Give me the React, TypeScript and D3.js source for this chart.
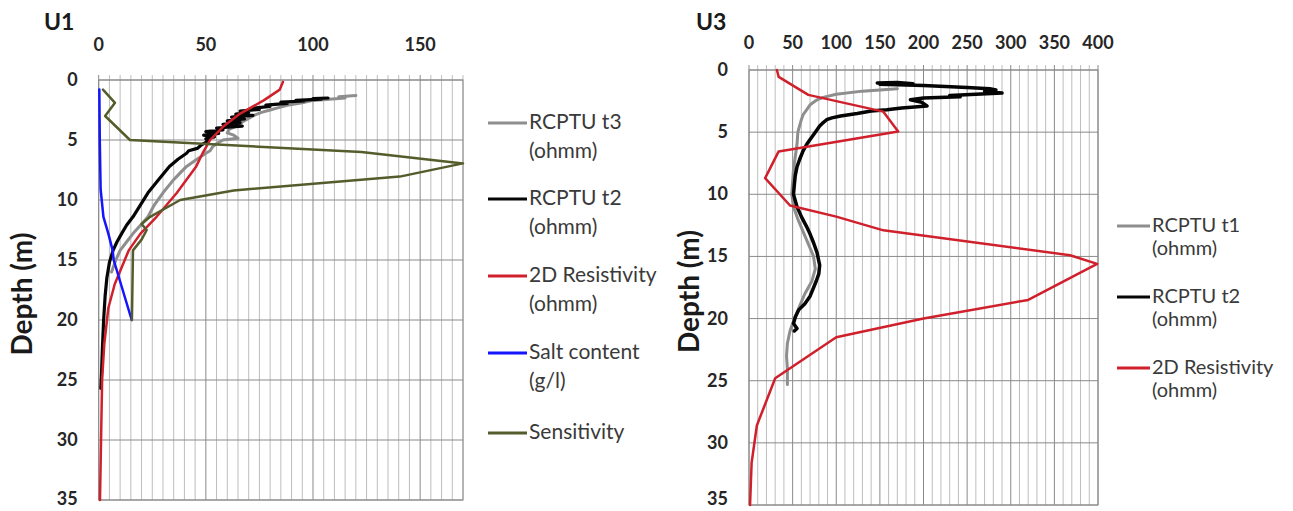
import React from 'react';
import * as d3 from 'd3';

// Each profile point is [value, depth in metres]
type Pt = [number, number];

const depthTicks = [0, 5, 10, 15, 20, 25, 30, 35];
const u1XTicks = [0, 50, 100, 150];
const u3XTicks = [0, 50, 100, 150, 200, 250, 300, 350, 400];

// ---- U1 profiles ----
const u1RcptuT3: Pt[] = [
  [120, 1.3], [112, 1.4], [115, 1.5], [100, 1.7], [95, 1.9], [88, 2.1], [84, 2.3], [80, 2.5],
  [76, 2.7], [73, 2.9], [70, 3.2], [67, 3.5], [65, 3.8], [61, 4.1], [60, 4.4], [63, 4.6],
  [65, 4.85], [58, 5.0], [55, 5.3], [53, 5.6], [52, 5.9], [50, 6.1], [45, 6.7], [41, 7.2],
  [35, 8.3], [30, 9.4], [26, 10.4], [23, 11.4], [19.5, 12.1], [16, 12.8], [13, 13.5],
  [10, 14.2], [8, 15], [6, 16],
];

const u1RcptuT2: Pt[] = [
  [107, 1.5], [100, 1.55], [104, 1.6], [92, 1.7], [96, 1.75], [85, 1.85], [88, 1.95], [78, 2.1],
  [80, 2.2], [72, 2.35], [75, 2.45], [66, 2.6], [70, 2.7], [64, 2.85], [72, 2.95], [62, 3.1],
  [68, 3.25], [60, 3.4], [66, 3.55], [58, 3.7], [67, 3.85], [55, 4.0], [58, 4.15], [50, 4.3],
  [56, 4.45], [49, 4.6], [54, 4.75], [50, 4.9], [51, 5.1], [48, 5.4], [46, 5.7], [42, 5.9],
  [41, 6.1], [37, 6.6], [33, 7.2], [28, 8.3], [23, 9.4], [19.5, 10.4], [16, 11.4], [13, 12.1],
  [10.7, 12.8], [8.5, 13.5], [6.7, 14.2], [5, 15.2], [3.8, 16.5], [3, 18], [2.3, 20],
  [1.7, 22.5], [1.3, 24.5], [1, 25.7],
];

const u1Resistivity: Pt[] = [
  [86, 0.15], [84.5, 0.8], [77, 1.7], [66, 2.8], [58, 3.9], [52, 5], [48.5, 6.1], [45.5, 7.2],
  [36.5, 9.4], [27, 11.4], [19.5, 12.8], [14, 14.2], [11, 15.5], [7.5, 17], [4.5, 19],
  [2.6, 22], [1.6, 25], [1.1, 30], [0.6, 35],
];

const u1SaltContent: Pt[] = [
  [0.3, 0.8], [0.5, 5], [0.9, 9.1], [2.2, 11.4], [4.5, 12.8], [6.5, 14.2], [7, 15], [15.4, 20],
];

const u1Sensitivity: Pt[] = [
  [2, 0.8], [7.6, 1.9], [3, 3.0], [14.6, 5.0], [122.6, 6.0], [170, 6.95], [140.5, 8.05],
  [63, 9.2], [38, 10], [24, 11.4], [20, 12], [22.4, 12.5], [20, 13.3], [16, 14.2], [15.5, 20],
];

// ---- U3 profiles ----
const u3RcptuT1: Pt[] = [
  [170, 1.5], [130, 1.7], [100, 1.95], [85, 2.2], [78, 2.4], [70, 2.8], [66, 3.2], [62, 3.6],
  [60, 4.0], [58, 4.5], [56, 5.0], [55, 6], [53, 7], [51, 8], [50, 9], [49, 10], [51, 11],
  [56, 12], [62, 13], [68, 14], [74, 15], [76, 16], [72, 17], [64, 18], [58, 19], [52, 20],
  [47, 21], [44, 22], [43, 23], [44, 24], [44, 25.3],
];

const u3RcptuT2: Pt[] = [
  [147, 1.05], [170, 1.0], [188, 1.1], [150, 1.15], [200, 1.25], [250, 1.4], [276, 1.5],
  [283, 1.6], [270, 1.7], [290, 1.85], [260, 1.95], [230, 2.05], [242, 2.15], [200, 2.25],
  [185, 2.4], [198, 2.6], [204, 2.9], [175, 3.05], [158, 3.2], [140, 3.3], [124, 3.5],
  [105, 3.7], [95, 3.85], [89, 4.0], [84, 4.3], [81, 4.5], [76, 5.0], [70, 5.6], [66, 6.0],
  [62, 6.5], [58, 7.2], [55, 7.8], [53, 8.5], [52, 9.2], [51, 10], [53, 10.5], [55, 11],
  [60, 11.8], [66, 12.6], [70, 13.2], [74, 13.9], [78, 14.7], [81, 15.7], [80, 16.4],
  [77, 17], [70, 18.2], [64, 18.8], [57, 19.3], [53, 19.9], [51, 20.4], [55, 20.8], [52, 21.0],
];

const u3Resistivity: Pt[] = [
  [32, 0], [34, 0.55], [68, 2.0], [154, 3.35], [171, 4.95], [34, 6.55], [18.5, 8.7], [47, 10.9],
  [100, 11.8], [154, 12.9], [368, 14.9], [399, 15.6], [320, 18.5], [200, 20], [100, 21.5],
  [30, 24.8], [9, 28.6], [3, 31.6], [1.2, 35],
];

const u1Labels = [
  ['RCPTU t3', '(ohmm)'],
  ['RCPTU t2', '(ohmm)'],
  ['2D Resistivity', '(ohmm)'],
  ['Salt content', '(g/l)'],
  ['Sensitivity'],
];
const u3Labels = [
  ['RCPTU t1', '(ohmm)'],
  ['RCPTU t2', '(ohmm)'],
  ['2D Resistivity', '(ohmm)'],
];

const GRAY = '#8e8e8e';
const BLACK = '#050505';
const RED = '#d0202c';
const BLUE = '#1414ff';
const OLIVE = '#545c2c';

interface Series {
  data: Pt[];
  color: string;
  width: number;
}

interface PanelProps {
  title: string;
  titleX: number;
  left: number;
  right: number;
  top: number;
  bottom: number;
  xMax: number;
  minorStep: number;
  xTicks: number[];
  tickLabelY: number;
  depthLabelX: number;
  series: Series[];
  labels: string[][];
  legendX: number;
  legendLineLen: number;
  legendYs: number[];
  legendLineGap: number;
  legendFontSize: number;
}

const FONT = 'Lato, "DejaVu Sans", sans-serif';

function Panel(p: PanelProps) {
  const x = d3.scaleLinear().domain([0, p.xMax]).range([p.left, p.right]);
  const y = d3.scaleLinear().domain([0, 35]).range([p.top, p.bottom]);
  const line = d3
    .line<Pt>()
    .x((d) => x(d[0]))
    .y((d) => y(d[1]));
  const minor = d3.range(0, p.xMax + 0.001, p.minorStep);
  const majorSet = new Set(p.xTicks);

  return (
    <g>
      {/* vertical grid, with short ticks above the frame */}
      {minor.map((v) => (
        <line
          key={'v' + v}
          x1={x(v)}
          x2={x(v)}
          y1={p.top - 5}
          y2={p.bottom}
          stroke={majorSet.has(v) ? '#8a8a8a' : '#bdbdbd'}
          strokeWidth={1}
        />
      ))}
      {depthTicks.map((d) => (
        <line key={'h' + d} x1={p.left} x2={p.right} y1={y(d)} y2={y(d)} stroke="#8a8a8a" strokeWidth={1} />
      ))}
      <rect x={p.left} y={p.top} width={p.right - p.left} height={p.bottom - p.top} fill="none" stroke="#8a8a8a" />

      {p.series.map((s, i) => (
        <path
          key={'s' + i}
          d={line(s.data) || ''}
          fill="none"
          stroke={s.color}
          strokeWidth={s.width}
          strokeLinejoin="round"
          strokeLinecap="round"
        />
      ))}

      {/* axis labels */}
      {p.xTicks.map((v) => (
        <text key={'xt' + v} x={x(v)} y={p.tickLabelY} textAnchor="middle" fontFamily={FONT} fontWeight={700} fontSize={18} fill="#262626">
          {v}
        </text>
      ))}
      {depthTicks.map((d) => (
        <text
          key={'yt' + d}
          x={p.left - 21}
          y={Math.min(y(d) + 6, 505)}
          textAnchor="end"
          fontFamily={FONT}
          fontWeight={700}
          fontSize={18}
          fill="#262626"
        >
          {d}
        </text>
      ))}
      <text x={p.titleX} y={30} fontFamily={FONT} fontWeight={700} fontSize={23} fill="#1a1a1a">
        {p.title}
      </text>
      <text
        transform={`translate(${p.depthLabelX},${(p.top + p.bottom) / 2 + 4}) rotate(-90)`}
        textAnchor="middle"
        fontFamily={FONT}
        fontWeight={700}
        fontSize={28}
        fill="#1a1a1a"
      >
        Depth (m)
      </text>

      {/* legend */}
      {p.labels.map((lines, i) => {
        const ly = p.legendYs[i];
        return (
          <g key={'lg' + i}>
            <line x1={p.legendX} x2={p.legendX + p.legendLineLen} y1={ly} y2={ly} stroke={p.series[i].color} strokeWidth={3} />
            {lines.map((t, j) => (
              <text
                key={j}
                x={p.legendX + p.legendLineLen + 2}
                y={ly + 6 + j * p.legendLineGap}
                fontFamily={FONT}
                fontSize={p.legendFontSize}
                fill="#3a3a3a"
              >
                {t}
              </text>
            ))}
          </g>
        );
      })}
    </g>
  );
}

export default function App() {
  return (
    <svg
      width={1293}
      height={511}
      viewBox="0 0 1293 511"
      style={{ position: 'absolute', left: 0, top: 0, background: '#ffffff' }}
    >
      <rect width={1293} height={511} fill="#ffffff" />
      <Panel
        title="U1"
        titleX={44}
        left={98.7}
        right={463}
        top={80}
        bottom={500}
        xMax={170}
        minorStep={5}
        xTicks={u1XTicks}
        tickLabelY={51}
        depthLabelX={32}
        series={[
          { data: u1RcptuT3, color: GRAY, width: 3 },
          { data: u1RcptuT2, color: BLACK, width: 3.2 },
          { data: u1Resistivity, color: RED, width: 2.5 },
          { data: u1SaltContent, color: BLUE, width: 2.5 },
          { data: u1Sensitivity, color: OLIVE, width: 2.5 },
        ]}
        labels={u1Labels}
        legendX={488}
        legendLineLen={39}
        legendYs={[123, 199, 276, 353, 433]}
        legendLineGap={29}
        legendFontSize={21}
      />
      <Panel
        title="U3"
        titleX={696}
        left={749}
        right={1098}
        top={70}
        bottom={505}
        xMax={400}
        minorStep={10}
        xTicks={u3XTicks}
        tickLabelY={49}
        depthLabelX={699}
        series={[
          { data: u3RcptuT1, color: GRAY, width: 3 },
          { data: u3RcptuT2, color: BLACK, width: 3.5 },
          { data: u3Resistivity, color: RED, width: 2.5 },
        ]}
        labels={u3Labels}
        legendX={1117}
        legendLineLen={33}
        legendYs={[226, 297, 368]}
        legendLineGap={23}
        legendFontSize={20}
      />
    </svg>
  );
}
